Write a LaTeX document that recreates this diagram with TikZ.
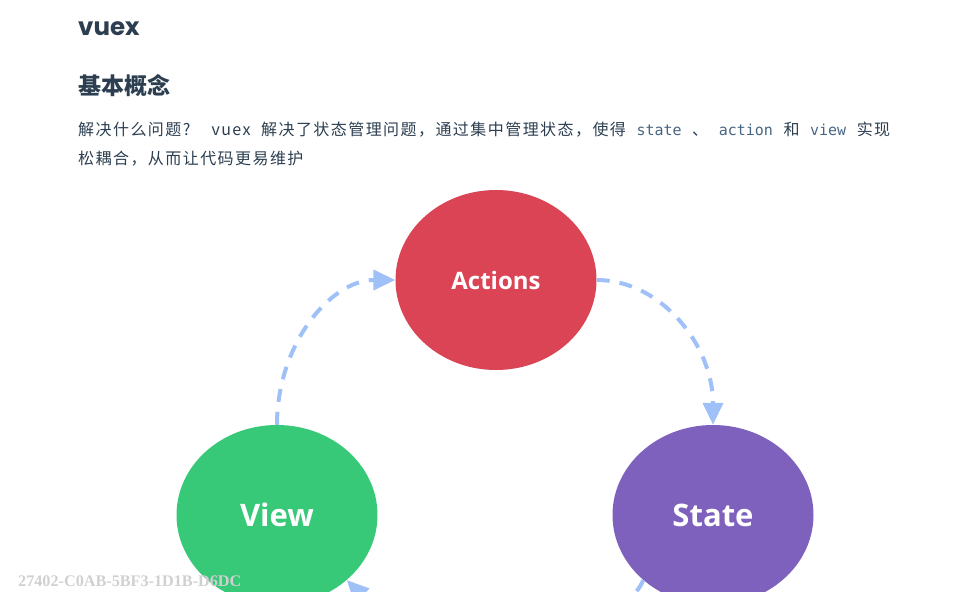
\documentclass[tikz,border=0pt]{standalone}
\usepackage{fontspec}
\setmainfont{Noto Sans CJK SC}
\newfontfamily\headfont{Poppins}
\newfontfamily\labelfont{Open Sans}
\newfontfamily\codefont{DejaVu Sans Mono}
\newfontfamily\markfont{Liberation Serif}
\usetikzlibrary{positioning,arrows.meta,shapes.geometric}
\definecolor{inkdark}{RGB}{44,62,80}
\definecolor{codegray}{RGB}{71,101,130}
\definecolor{actionsred}{RGB}{219,68,85}
\definecolor{statepurple}{RGB}{126,96,189}
\definecolor{viewgreen}{RGB}{56,201,120}
\definecolor{flowblue}{RGB}{160,192,248}
\definecolor{markgray}{RGB}{208,208,208}
\newcommand{\code}[1]{{\codefont\fontsize{15}{18}\selectfont\color{codegray}#1}}

\begin{document}
\begin{tikzpicture}[
  x=1pt, y=-1pt,
  every node/.style={inner sep=0pt, text=inkdark},
  bubble/.style={ellipse, minimum width=201pt, minimum height=180pt, text=white,
    font=\labelfont\bfseries\fontsize{31}{36}\selectfont},
  para/.style={anchor=base west, font=\fontsize{16}{20}\selectfont\addfontfeature{LetterSpace=9}},
  flow/.style={-{Triangle[length=22pt,width=20pt]}, line width=4pt, flowblue,
    dash pattern=on 13pt off 10pt},
]
  \useasboundingbox (0,0) rectangle (954,592);
  \clip (0,0) rectangle (954,592);
  \node[anchor=base west, font=\headfont\bfseries\fontsize{24.5}{28}\selectfont] (title) at (78,35) {vuex};
  \node[anchor=base west, font=\bfseries\fontsize{23}{28}\selectfont] (concept) at (78,94) {基本概念};
  \node[para] (line1) at (78,135) {\makebox[812pt][s]{解决什么问题?\ \ vuex 解决了状态管理问题，通过集中管理状态，使得 \code{state} 、 \code{action} 和 \code{view} 实现}};
  \node[para] (line2) at (78,164) {松耦合，从而让代码更易维护};
  % the three stores of the cycle
  \node[bubble, fill=actionsred, font=\labelfont\bfseries\fontsize{24}{28}\selectfont] (actions) at (496,280) {Actions};
  \node[bubble, fill=statepurple] (state) at (713,515) {State};
  \node[bubble, fill=viewgreen] (view) at (277,515) {View};
  \draw[flow] (view.north) .. controls (277,345) and (330,280) .. (actions.west);
  \draw[flow] (actions.east) .. controls (661,280) and (713,345) .. (state.north);
  \draw[flow] (state.223) .. controls (615,650) and (395,630) .. (view.-43);
  \node[anchor=base west, text=markgray, font=\markfont\bfseries\fontsize{16.2}{20}\selectfont] (mark) at (18,586) {27402-C0AB-5BF3-1D1B-D6DC};
\end{tikzpicture}
\end{document}
